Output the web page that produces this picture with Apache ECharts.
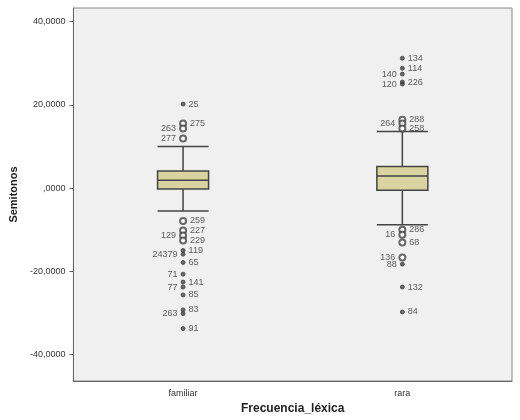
<!DOCTYPE html>
<html><head><meta charset="utf-8">
<script src="https://cdn.jsdelivr.net/npm/echarts@6/dist/echarts.min.js"></script>
<style>html,body{margin:0;background:#fff}#c{width:520px;height:420px}</style>
</head><body><div id="c"></div>
<script>
const categories = ['familiar', 'rara'];
const yTicks = [-40, -20, 0, 20, 40];
// [lower whisker, Q1, median, Q3, upper whisker]
const boxFamiliar = [-5.5, -0.2, 1.9, 4.1, 10.0];
const boxRara = [-8.8, -0.5, 2.9, 5.2, 13.6];
// outliers: value, label, label side, extreme (star)
const famVals = [20.2, 15.5, 14.3, 11.9, -7.9, -10.2, -11.4, -12.6, -15.0, -15.9, -17.9, -20.7, -22.6, -23.8, -25.7, -29.3, -30.2, -33.8];
const famLabels = ['25', '275', '263', '277', '259', '227', '129', '229', '119', '24379', '65', '71', '141', '77', '85', '83', '263', '91'];
const famSide = ['right', 'right', 'left', 'left', 'right', 'right', 'left', 'right', 'right', 'left', 'right', 'left', 'right', 'left', 'right', 'right', 'left', 'right'];
const famStar = [1, 0, 0, 0, 0, 0, 0, 0, 1, 1, 1, 1, 1, 1, 1, 1, 1, 1];
const raraVals = [31.2, 28.8, 27.4, 25.5, 25.0, 16.4, 15.5, 14.3, -10.0, -11.2, -13.1, -16.7, -18.3, -23.8, -29.8];
const raraLabels = ['134', '114', '140', '226', '120', '288', '264', '258', '286', '16', '68', '136', '88', '132', '84'];
const raraSide = ['right', 'right', 'left', 'right', 'left', 'right', 'left', 'right', 'right', 'left', 'right', 'left', 'left', 'right', 'right'];
const raraStar = [1, 1, 1, 1, 1, 0, 0, 0, 0, 0, 0, 0, 1, 1, 1];

function pts(cat, vals, labels, side, star) {
  return vals.map((v, i) => ({
    value: [cat, v],
    symbol: star[i] ? 'circle' : 'emptyCircle',
    symbolSize: star[i] ? 4 : 6,
    label: { show: true, formatter: labels[i], position: side[i] }
  }));
}

const chart = echarts.init(document.getElementById('c'));
chart.setOption({
  animation: false,
  textStyle: { fontFamily: 'Liberation Sans, Arial' },
  grid: { left: 62, right: 8, top: 8, bottom: 35, show: true, backgroundColor: '#f0f0f0', borderColor: '#888' },
  xAxis: {
    type: 'category', data: categories,
    name: 'Frecuencia_léxica', nameLocation: 'middle', nameGap: 22,
    nameTextStyle: { fontWeight: 'bold', fontSize: 12, color: '#222' },
    axisLine: { onZero: false, lineStyle: { color: '#666' } }, axisTick: { show: false },
    axisLabel: { fontSize: 9, color: '#333' }
  },
  yAxis: {
    type: 'value', min: -46.4, max: 43.3,
    name: 'Semitonos', nameLocation: 'middle', nameGap: 50,
    nameTextStyle: { fontWeight: 'bold', fontSize: 11, color: '#222' },
    splitLine: { show: false }, axisLine: { show: true, lineStyle: { color: '#666' } },
    axisTick: { show: true, length: 4, customValues: yTicks },
    axisLabel: { fontSize: 9, color: '#333', customValues: yTicks, formatter: v => (v === 0 ? ',0000' : v + ',0000') }
  },
  series: [
    {
      type: 'boxplot', boxWidth: [51, 51],
      itemStyle: { color: '#d8d3a0', borderColor: '#444', borderWidth: 1.5 },
      data: [boxFamiliar, boxRara]
    },
    {
      type: 'scatter',
      itemStyle: { color: '#444', borderColor: '#444' },
      label: { fontSize: 9, color: '#333', distance: 3 },
      data: pts('familiar', famVals, famLabels, famSide, famStar).concat(pts('rara', raraVals, raraLabels, raraSide, raraStar))
    }
  ]
});
</script></body></html>
